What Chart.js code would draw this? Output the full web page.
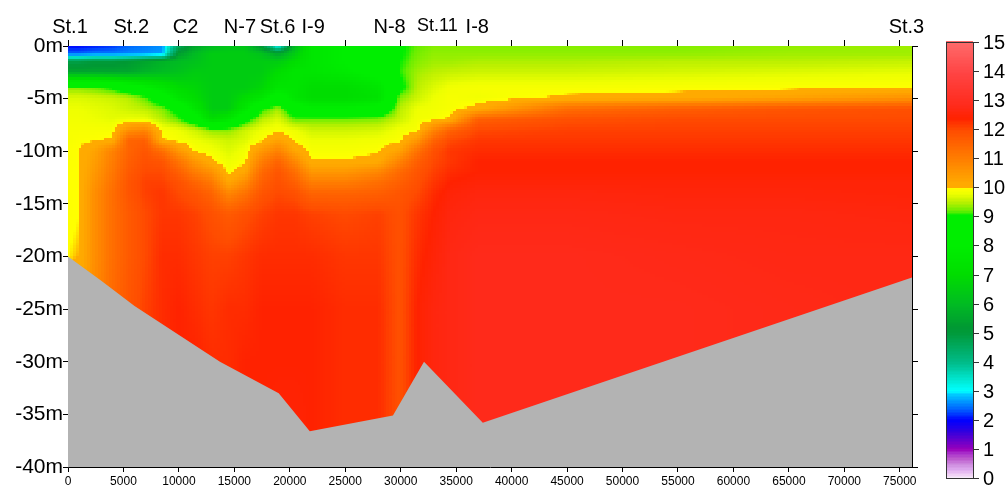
<!DOCTYPE html>
<html>
<head>
<meta charset="utf-8">
<script src="https://cdn.jsdelivr.net/npm/chart.js@4.4.1/dist/chart.umd.min.js"></script>
<style>
  html, body { margin: 0; padding: 0; background: #fff; }
  #wrap { width: 1005px; height: 487px; }
</style>
</head>
<body>
<div id="wrap"><canvas id="c"></canvas></div>
<script>
// station names along the top, and their distance (m)
const stations = ['St.1', 'St.2', 'C2', 'N-7', 'St.6', 'I-9', 'N-8', 'St.11', 'I-8', 'St.3'];
const stationDist = [180, 5700, 10600, 15500, 18900, 22100, 29000, 33300, 36900, 75600];

// bottom profile (distance m, depth m)
const seabedDist = [0, 3000, 6000, 13700, 19000, 21800, 29300, 32100, 37400, 76100];
const seabedDepth = [-20, -22.3, -24.7, -30, -33, -36.6, -35.1, -30, -35.8, -22];

const xTicks = [0, 5000, 10000, 15000, 20000, 25000, 30000, 35000, 40000, 45000, 50000, 55000, 60000, 65000, 70000, 75000];
const cbTicks = [0, 1, 2, 3, 4, 5, 6, 7, 8, 9, 10, 11, 12, 13, 14, 15];

// temperature grid: columns = distance (m), rows = depth (m)
const gridDist = [0, 1000, 2500, 4000, 5500, 7000, 8500, 10000, 11500, 13000, 14500, 16000, 17500, 19000, 20500, 22000, 25000, 28000, 30000, 31500, 33000, 34500, 37000, 45000, 55000, 65000, 76100];
const gridDepth = [0, 0.8, 1.5, 2.5, 4, 5, 6, 7, 8, 9, 10, 11, 12, 13, 14, 16, 20, 25, 30, 37];
const temp = [
  [2.0, 2.0, 2.1, 2.2, 2.4, 2.5, 2.6, 4.5, 5.5, 6.0, 6.3, 6.3, 5.0, 3.0, 6.0, 7.5, 8.0, 8.5, 9.0, 9.2, 9.3, 9.3, 9.3, 9.3, 9.3, 9.35, 9.4],
  [2.4, 2.4, 2.5, 2.5, 2.55, 2.6, 2.65, 5.3, 6.0, 6.5, 6.5, 6.5, 6.2, 5.5, 6.5, 7.5, 8.0, 8.5, 9.0, 9.25, 9.35, 9.35, 9.35, 9.35, 9.35, 9.4, 9.4],
  [4.8, 4.8, 5.0, 5.0, 5.2, 5.5, 5.8, 6.0, 6.2, 6.5, 6.5, 6.5, 6.5, 6.5, 7.0, 7.5, 8.0, 8.5, 9.05, 9.3, 9.4, 9.4, 9.45, 9.45, 9.5, 9.5, 9.55],
  [5.5, 5.5, 5.5, 5.5, 5.5, 5.8, 6.0, 6.2, 6.5, 6.5, 6.5, 6.5, 6.5, 7.0, 7.5, 7.5, 7.8, 8.3, 9.1, 9.4, 9.5, 9.55, 9.6, 9.6, 9.65, 9.7, 9.75],
  [9.3, 9.3, 9.2, 9.0, 8.6, 8.0, 7.5, 7.0, 6.8, 6.5, 6.5, 6.5, 6.8, 7.5, 7.5, 7.0, 7.0, 7.5, 8.9, 9.5, 9.7, 9.85, 9.9, 9.9, 9.93, 9.95, 9.98],
  [9.7, 9.7, 9.65, 9.6, 9.5, 9.2, 8.5, 7.5, 7.0, 6.5, 6.5, 7.0, 7.5, 8.5, 7.5, 7.0, 7.0, 7.3, 9.3, 9.6, 9.8, 9.9, 9.85, 10.05, 10.1, 10.3, 10.6],
  [9.8, 9.8, 9.75, 9.7, 9.6, 9.5, 9.3, 8.8, 7.5, 6.5, 6.5, 7.5, 9.0, 9.4, 8.5, 8.0, 8.0, 8.3, 9.5, 9.8, 9.85, 9.9, 10.1, 11.3, 11.6, 11.8, 11.9],
  [9.85, 9.85, 9.8, 9.75, 9.8, 9.8, 9.5, 9.2, 8.5, 7.0, 7.5, 8.8, 9.5, 9.7, 9.2, 9.25, 9.25, 9.3, 9.6, 9.85, 9.9, 10.05, 11.6, 11.9, 12.0, 12.0, 12.0],
  [9.9, 9.9, 9.9, 9.9, 10.6, 10.8, 9.9, 9.8, 9.6, 9.3, 9.3, 9.6, 9.8, 9.9, 9.8, 9.6, 9.6, 9.65, 9.85, 9.9, 10.8, 11.5, 12.0, 12.1, 12.1, 12.1, 12.1],
  [9.9, 9.95, 9.97, 10.05, 11.5, 11.6, 10.05, 9.9, 9.8, 9.7, 9.6, 9.7, 9.95, 10.3, 9.95, 9.8, 9.8, 9.85, 9.95, 10.5, 11.5, 12.0, 12.2, 12.2, 12.2, 12.2, 12.2],
  [9.95, 9.98, 10.3, 10.9, 11.5, 11.8, 11.3, 10.5, 9.95, 9.85, 9.7, 9.85, 10.5, 10.9, 10.2, 9.9, 9.9, 9.96, 10.3, 11.2, 11.9, 12.2, 12.3, 12.3, 12.3, 12.3, 12.3],
  [9.95, 9.98, 10.4, 11.0, 11.6, 11.9, 11.8, 11.2, 10.5, 10.05, 9.8, 9.95, 11.0, 11.5, 10.8, 10.02, 10.02, 10.1, 10.9, 11.6, 12.0, 12.2, 12.4, 12.4, 12.4, 12.4, 12.4],
  [9.97, 9.98, 10.5, 11.1, 11.7, 12.0, 12.0, 11.6, 11.0, 10.6, 9.9, 10.2, 11.4, 11.8, 11.3, 10.5, 10.5, 10.8, 11.4, 11.8, 12.1, 12.3, 12.4, 12.4, 12.4, 12.4, 12.4],
  [9.97, 9.98, 10.6, 11.2, 11.8, 12.1, 12.1, 11.9, 11.5, 11.1, 10.2, 10.7, 11.6, 11.9, 11.6, 11.0, 11.0, 11.3, 11.6, 11.9, 12.2, 12.4, 12.5, 12.5, 12.5, 12.5, 12.5],
  [9.98, 9.99, 10.7, 11.3, 11.8, 12.1, 12.2, 12.0, 11.8, 11.5, 10.8, 11.2, 11.8, 12.0, 11.9, 11.5, 11.5, 11.6, 11.8, 12.0, 12.3, 12.5, 12.6, 12.6, 12.55, 12.55, 12.5],
  [9.98, 9.99, 10.7, 11.3, 11.7, 12.0, 12.2, 12.2, 12.1, 11.9, 11.7, 11.9, 12.1, 12.2, 12.2, 12.1, 12.0, 12.1, 11.9, 12.2, 12.4, 12.6, 12.7, 12.7, 12.65, 12.65, 12.6],
  [9.99, 10.0, 10.7, 11.3, 11.7, 12.0, 12.3, 12.3, 12.2, 12.1, 12.1, 12.2, 12.3, 12.3, 12.3, 12.3, 12.2, 12.2, 11.9, 12.3, 12.5, 12.7, 12.8, 12.8, 12.75, 12.7, 12.7],
  [10.0, 10.1, 10.8, 11.4, 11.8, 12.1, 12.3, 12.4, 12.3, 12.2, 12.3, 12.3, 12.4, 12.4, 12.4, 12.4, 12.3, 12.3, 11.9, 12.4, 12.6, 12.7, 12.8, 12.8, 12.8, 12.75, 12.7],
  [10.0, 10.1, 10.8, 11.4, 11.8, 12.1, 12.3, 12.4, 12.4, 12.3, 12.3, 12.4, 12.4, 12.4, 12.4, 12.4, 12.3, 12.3, 11.9, 12.4, 12.6, 12.7, 12.8, 12.8, 12.8, 12.75, 12.7],
  [10.0, 10.1, 10.8, 11.4, 11.8, 12.1, 12.3, 12.4, 12.4, 12.4, 12.4, 12.4, 12.4, 12.5, 12.5, 12.4, 12.3, 12.3, 11.9, 12.4, 12.6, 12.7, 12.8, 12.8, 12.8, 12.75, 12.7]
];

// colour scale (value -> colour)
const cmapVals = [0, 0.15, 0.3, 0.5, 0.7, 0.85, 1.0, 1.3, 1.6, 2.0, 2.2, 2.4, 2.65, 2.9, 3.0, 3.3, 4.0, 5.0, 5.2, 6.0, 7.0, 8.0, 9.05, 9.2, 9.5, 9.8, 9.99, 10.0, 10.15, 10.95, 11.98, 12.4, 12.8, 13.95, 15];
const cmapCols = ['#f8f0fa', '#eeccf4', '#ddaaee', '#cc88dd', '#bb55cc', '#aa33cc', '#9900bb', '#6600cc', '#3300dd', '#0000ff', '#0033ff', '#0066ff', '#0099ff', '#00ccff', '#00ffff', '#00eedd', '#00bb88', '#009a3a', '#009933', '#00bb22', '#00dd00', '#00ee00', '#00ee00', '#66ee00', '#bbf000', '#eeff00', '#ffff00', '#ffaa00', '#ffaa00', '#ff8000', '#ff4c00', '#ff2200', '#ff2a1a', '#ff4444', '#ff6a6a'];

const FONT = "'Liberation Sans', Arial, sans-serif";
const cmapRgb = cmapCols.map(h => [1, 3, 5].map(i => parseInt(h.substr(i, 2), 16)));

function colorFor(v) {
  if (v <= cmapVals[0]) return cmapCols[0];
  const n = cmapVals.length;
  if (v >= cmapVals[n - 1]) return cmapCols[n - 1];
  let i = 0;
  while (v > cmapVals[i + 1]) i++;
  const t = (v - cmapVals[i]) / (cmapVals[i + 1] - cmapVals[i]);
  const a = cmapRgb[i], b = cmapRgb[i + 1];
  return 'rgb(' + a.map((c, k) => Math.round(c + (b[k] - c) * t)).join(',') + ')';
}

function findIdx(arr, v) {
  let i = 0;
  while (i < arr.length - 2 && v > arr[i + 1]) i++;
  return i;
}

// bilinear lookup in the grid, used only for shading
function sample(dist, depth) {
  const i = findIdx(gridDist, dist), j = findIdx(gridDepth, depth);
  const tx = Math.min(1, Math.max(0, (dist - gridDist[i]) / (gridDist[i + 1] - gridDist[i])));
  const ty = Math.min(1, Math.max(0, (depth - gridDepth[j]) / (gridDepth[j + 1] - gridDepth[j])));
  const a = temp[j][i], b = temp[j][i + 1], c = temp[j + 1][i], d = temp[j + 1][i + 1];
  return (a * (1 - tx) + b * tx) * (1 - ty) + (c * (1 - tx) + d * tx) * ty;
}

const heatmap = {
  id: 'heatmap',
  beforeDatasetsDraw(chart) {
    const { ctx, chartArea: a, scales: { x, y } } = chart;
    ctx.save();
    ctx.beginPath();
    ctx.rect(a.left, a.top, a.right - a.left, a.bottom - a.top);
    ctx.clip();
    const dx = 250, dz = 0.25;
    for (let xv = 0; xv < x.max; xv += dx) {
      const px0 = Math.floor(x.getPixelForValue(xv));
      const px1 = Math.ceil(x.getPixelForValue(xv + dx));
      for (let d = 0; d < 37; d += dz) {
        const py0 = Math.floor(y.getPixelForValue(-d));
        const py1 = Math.ceil(y.getPixelForValue(-d - dz));
        ctx.fillStyle = colorFor(sample(xv + dx / 2, d + dz / 2));
        ctx.fillRect(px0, py0, px1 - px0, py1 - py0);
      }
    }
    ctx.restore();
  }
};

const labels = {
  id: 'labels',
  afterDraw(chart) {
    const { ctx, scales: { x } } = chart;
    ctx.save();
    ctx.fillStyle = '#000';
    ctx.textAlign = 'center';
    ctx.textBaseline = 'alphabetic';
    stations.forEach((s, i) => {
      const small = s === 'St.11';
      ctx.font = (small ? '18px ' : '20px ') + FONT;
      ctx.fillText(s, x.getPixelForValue(stationDist[i]), small ? 31 : 33);
    });

    // colour bar
    const left = 946, right = 973, top = 42, bottom = 478;
    const vpx = v => bottom - (v / 15) * (bottom - top);
    for (let v = 0; v < 15; v += 0.05) {
      ctx.fillStyle = colorFor(v + 0.025);
      const y0 = Math.floor(vpx(v + 0.05)), y1 = Math.ceil(vpx(v));
      ctx.fillRect(left, y0, right - left, y1 - y0);
    }
    ctx.strokeStyle = '#333';
    ctx.lineWidth = 1;
    ctx.strokeRect(left + 0.5, top + 0.5, right - left, bottom - top);
    ctx.font = '20px ' + FONT;
    ctx.textAlign = 'left';
    ctx.textBaseline = 'middle';
    ctx.fillStyle = '#000';
    cbTicks.forEach(v => {
      const yy = Math.round(vpx(v)) + 0.5;
      ctx.beginPath();
      ctx.moveTo(right, yy);
      ctx.lineTo(right + 6, yy);
      ctx.stroke();
      ctx.fillText(String(v), right + 10, yy + 1);
    });
    ctx.restore();
  }
};

const tickFix = s => { s.ticks = xTicks.map(v => ({ value: v })); };
const axisGrid = len => ({ drawOnChartArea: false, drawTicks: true, tickLength: len, color: '#000', lineWidth: 1 });

new Chart(document.getElementById('c'), {
  type: 'line',
  data: {
    datasets: [{
      data: seabedDist.map((d, i) => ({ x: d, y: seabedDepth[i] })),
      fill: 'start',
      backgroundColor: '#b3b3b3',
      borderColor: '#b3b3b3',
      borderWidth: 0,
      pointRadius: 0,
      tension: 0
    }]
  },
  options: {
    responsive: true,
    maintainAspectRatio: false,
    animation: false,
    layout: { padding: 0 },
    plugins: { legend: { display: false }, tooltip: { enabled: false } },
    scales: {
      x: {
        type: 'linear', position: 'bottom', min: 0, max: 76100,
        afterBuildTicks: tickFix,
        afterFit: s => { s.height = 20; },
        ticks: { color: '#000', font: { size: 12, family: FONT }, padding: 2, maxRotation: 0, autoSkip: false, callback: v => String(v) },
        grid: axisGrid(5),
        border: { color: '#000' }
      },
      xt: {
        type: 'linear', position: 'top', min: 0, max: 76100,
        afterBuildTicks: tickFix,
        afterFit: s => { s.height = 46; },
        ticks: { callback: () => '' },
        grid: axisGrid(6),
        border: { color: '#000' }
      },
      y: {
        type: 'linear', position: 'left', min: -40, max: 0,
        afterFit: s => { s.width = 68; },
        ticks: { stepSize: 5, color: '#000', font: { size: 21, family: FONT }, padding: 0, callback: v => v + 'm' },
        grid: axisGrid(5),
        border: { color: '#222' }
      },
      yr: {
        type: 'linear', position: 'right', min: -40, max: 0,
        afterFit: s => { s.width = 93; },
        ticks: { stepSize: 5, callback: () => '' },
        grid: axisGrid(6),
        border: { color: '#000' }
      }
    }
  },
  plugins: [heatmap, labels]
});
</script>
</body>
</html>
